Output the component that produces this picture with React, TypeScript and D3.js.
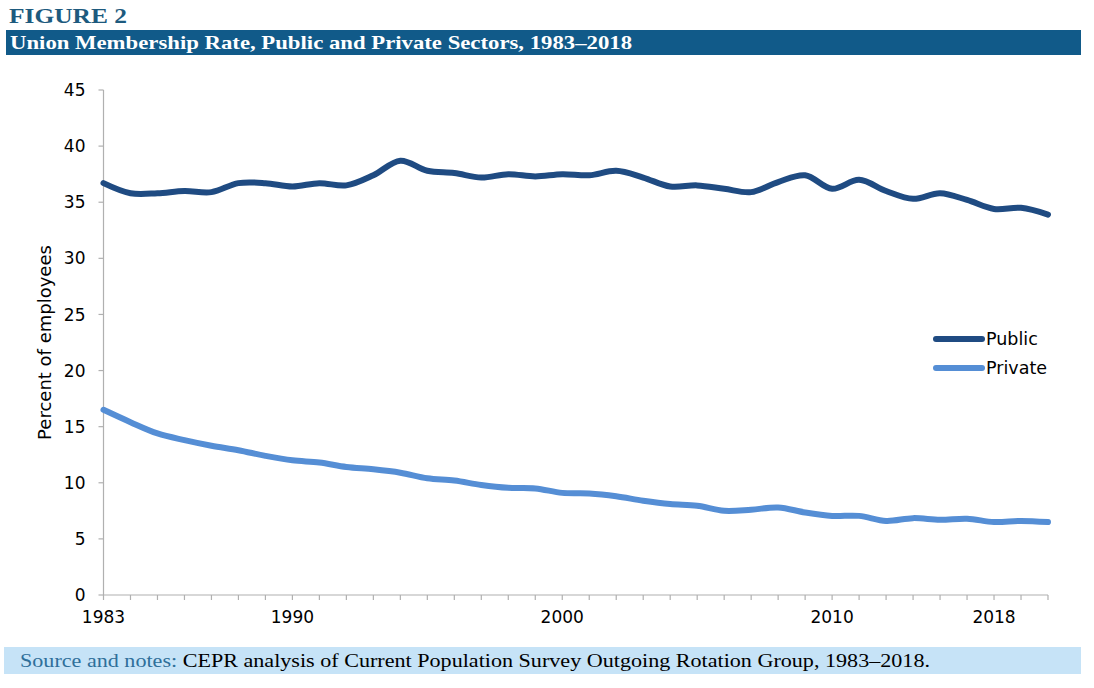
import React from "react";
import * as d3 from "d3";

const years: number[] = [
  1983, 1984, 1985, 1986, 1987, 1988, 1989, 1990, 1991, 1992, 1993, 1994,
  1995, 1996, 1997, 1998, 1999, 2000, 2001, 2002, 2003, 2004, 2005, 2006,
  2007, 2008, 2009, 2010, 2011, 2012, 2013, 2014, 2015, 2016, 2017, 2018,
];
const publicRate: number[] = [
  36.7, 35.8, 35.8, 36.0, 35.9, 36.7, 36.7, 36.4, 36.7, 36.5, 37.4, 38.7,
  37.8, 37.6, 37.2, 37.5, 37.3, 37.5, 37.4, 37.8, 37.2, 36.4, 36.5, 36.2,
  35.9, 36.8, 37.4, 36.2, 37.0, 36.0, 35.3, 35.8, 35.2, 34.4, 34.5, 33.9,
];
const privateRate: number[] = [
  16.5, 15.4, 14.4, 13.8, 13.3, 12.9, 12.4, 12.0, 11.8, 11.4, 11.2, 10.9,
  10.4, 10.2, 9.8, 9.55, 9.5, 9.1, 9.05, 8.8, 8.4, 8.1, 7.95, 7.5,
  7.6, 7.8, 7.35, 7.05, 7.05, 6.6, 6.85, 6.7, 6.8, 6.5, 6.6, 6.5,
];
// x tick labels as printed, and the category each one sits under
const xTickText: string[] = ["1983", "1990", "2000", "2010", "2018"];
const xTickAt: number[] = [1983, 1990, 2000, 2010, 2016];
const yTicks: number[] = [0, 5, 10, 15, 20, 25, 30, 35, 40, 45];
const seriesNames: string[] = ["Public", "Private"];
const seriesColors: string[] = ["#1f4b82", "#558ed5"];

const W = 1094;
const H = 688;
const plot = { left: 103.5, right: 1048, top: 90, bottom: 595 };

export default function App() {
  const x = d3.scalePoint<number>().domain(years).range([plot.left, plot.right]);
  const y = d3.scaleLinear().domain([0, 45]).range([plot.bottom, plot.top]);
  const line = d3
    .line<number>()
    .x((_, i) => x(years[i]) as number)
    .y((d) => y(d))
    .curve(d3.curveCatmullRom.alpha(0.5));
  const series = [publicRate, privateRate];
  const axisFont = "'DejaVu Sans', Verdana, sans-serif";
  const serif = "'Liberation Serif', 'Times New Roman', serif";
  const axisColor = "#b0b0b0";

  return (
    <svg
      width={W}
      height={H}
      style={{ position: "absolute", left: 0, top: 0, background: "#fff" }}
    >
      {/* Header */}
      <text
        x={9}
        y={23}
        fontFamily={serif}
        fontWeight="bold"
        fontSize={20}
        fill="#1d5a7e"
        textLength={118}
        lengthAdjust="spacingAndGlyphs"
      >
        FIGURE 2
      </text>
      <rect x={6} y={30} width={1075} height={25} fill="#115a89" />
      <text
        x={10}
        y={49}
        fontFamily={serif}
        fontWeight="bold"
        fontSize={19}
        fill="#ffffff"
        textLength={622}
        lengthAdjust="spacingAndGlyphs"
      >
        Union Membership Rate, Public and Private Sectors, 1983–2018
      </text>

      {/* Axes */}
      <line x1={plot.left} x2={plot.left} y1={plot.top} y2={plot.bottom} stroke={axisColor} strokeWidth={1.2} />
      <line x1={plot.left} x2={plot.right} y1={plot.bottom} y2={plot.bottom} stroke={axisColor} strokeWidth={1.2} />
      {yTicks.map((t) => (
        <g key={"y" + t}>
          <line x1={plot.left - 5} x2={plot.left} y1={y(t)} y2={y(t)} stroke={axisColor} strokeWidth={1.2} />
          <text
            x={plot.left - 18}
            y={y(t)}
            dy="0.36em"
            textAnchor="end"
            fontFamily={axisFont}
            fontSize={17}
            fill="#000"
          >
            {t}
          </text>
        </g>
      ))}
      {years.map((yr) => (
        <line
          key={"xt" + yr}
          x1={x(yr)}
          x2={x(yr)}
          y1={plot.bottom}
          y2={plot.bottom + 5}
          stroke={axisColor}
          strokeWidth={1.2}
        />
      ))}
      {xTickText.map((lbl, i) => (
        <text
          key={"xl" + lbl}
          x={x(xTickAt[i])}
          y={623}
          textAnchor="middle"
          fontFamily={axisFont}
          fontSize={17}
          fill="#000"
        >
          {lbl}
        </text>
      ))}
      <text
        transform={`translate(51, ${(plot.top + plot.bottom) / 2}) rotate(-90)`}
        textAnchor="middle"
        fontFamily={axisFont}
        fontSize={18}
        fill="#000"
      >
        Percent of employees
      </text>

      {/* Lines */}
      {series.map((s, k) => (
        <path
          key={"s" + k}
          d={line(s) || ""}
          fill="none"
          stroke={seriesColors[k]}
          strokeWidth={6}
          strokeLinecap="round"
          strokeLinejoin="round"
        />
      ))}

      {/* Legend */}
      {seriesNames.map((n, k) => (
        <g key={"lg" + n} transform={`translate(936, ${339 + k * 29})`}>
          <line x1={0} x2={46} y1={0} y2={0} stroke={seriesColors[k]} strokeWidth={6} strokeLinecap="round" />
          <text x={50} y={0} dy="0.36em" fontFamily={axisFont} fontSize={17.5} fill="#000">
            {n}
          </text>
        </g>
      ))}

      {/* Footer */}
      <rect x={4} y={647} width={1077} height={27} fill="#c6e3f7" />
      <text
        x={20}
        y={667}
        fontFamily={serif}
        fontSize={18}
        textLength={910}
        lengthAdjust="spacingAndGlyphs"
      >
        <tspan fill="#2f6f9a">Source and notes: </tspan>
        <tspan fill="#000">
          CEPR analysis of Current Population Survey Outgoing Rotation Group, 1983–2018.
        </tspan>
      </text>
    </svg>
  );
}
